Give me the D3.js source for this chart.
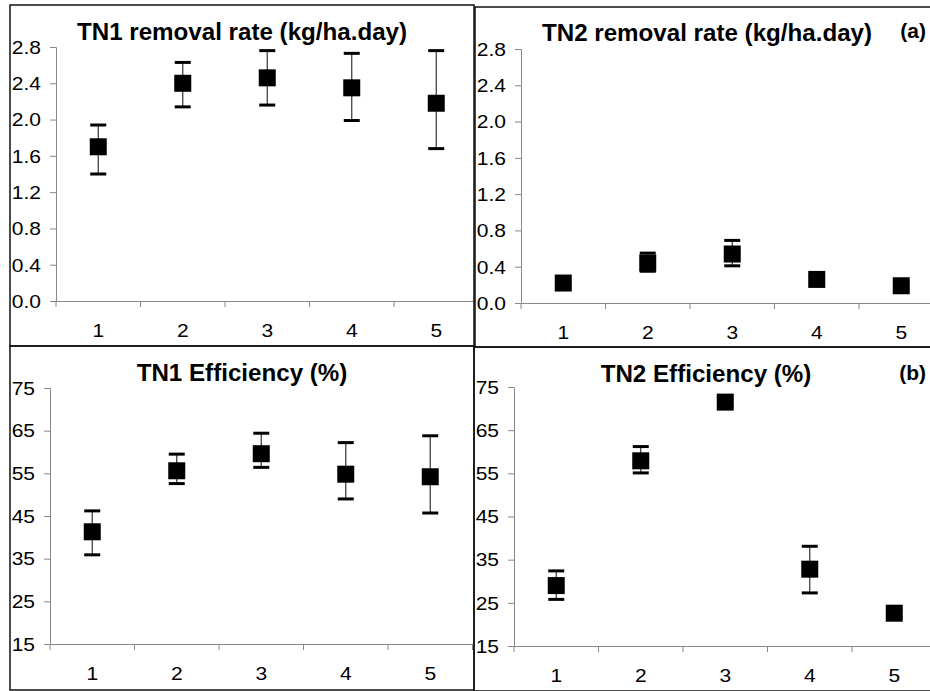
<!DOCTYPE html>
<html>
<head>
<meta charset="utf-8">
<script src="https://cdn.jsdelivr.net/npm/d3@7"></script>
<style>
  body { margin: 0; background: #fff; }
  svg { display: block; font-family: "Liberation Sans", Arial, sans-serif; }
</style>
</head>
<body>
<script>
// categories on the x axis
var categories = [1, 2, 3, 4, 5];

// TN1 removal rate (kg/ha.day): mean, upper and lower error bar ends
var tn1RateMean = [1.70, 2.40, 2.46, 2.35, 2.18];
var tn1RateHigh = [1.94, 2.63, 2.76, 2.73, 2.76];
var tn1RateLow  = [1.40, 2.14, 2.16, 1.99, 1.68];

// TN2 removal rate (kg/ha.day)
var tn2RateMean = [0.22, 0.44, 0.54, 0.26, 0.19];
var tn2RateHigh = [0.24, 0.55, 0.69, 0.30, 0.21];
var tn2RateLow  = [0.20, 0.35, 0.41, 0.22, 0.17];

// TN1 efficiency (%)
var tn1EffMean = [41.3, 55.6, 59.6, 54.8, 54.2];
var tn1EffHigh = [46.2, 59.5, 64.4, 62.2, 63.8];
var tn1EffLow  = [35.9, 52.6, 56.4, 49.0, 45.7];

// TN2 efficiency (%)
var tn2EffMean = [29.0, 57.9, 71.5, 32.8, 22.6];
var tn2EffHigh = [32.4, 61.2, 72.5, 38.1, 23.5];
var tn2EffLow  = [25.8, 55.1, 70.5, 27.3, 21.7];

// tick labels
var rateTicks = [0.0, 0.4, 0.8, 1.2, 1.6, 2.0, 2.4, 2.8];
var effTicks = [15, 25, 35, 45, 55, 65, 75];

// text in the original is a little wider than Arial
var SX = 1.2;
var bandW = 84.5;

var svg = d3.select('body').append('svg')
    .attr('width', 930)
    .attr('height', 691);

svg.append('rect').attr('width', 930).attr('height', 691).attr('fill', '#fff');

var panels = [
  {id: 'tl', title: 'TN1 removal rate (kg/ha.day)', mean: tn1RateMean, hi: tn1RateHigh, lo: tn1RateLow,
   ticks: rateTicks, fmt: d3.format('.1f'), box: [10, 5, 464, 341], left: 56, top: 47, bottom: 301,
   titleX: 242, titleY: 40},
  {id: 'tr', title: 'TN2 removal rate (kg/ha.day)', mean: tn2RateMean, hi: tn2RateHigh, lo: tn2RateLow,
   ticks: rateTicks, fmt: d3.format('.1f'), box: [475, 7, 470, 340], left: 521, top: 49, bottom: 303,
   titleX: 707, titleY: 41, tag: '(a)', tagY: 38},
  {id: 'bl', title: 'TN1 Efficiency (%)', mean: tn1EffMean, hi: tn1EffHigh, lo: tn1EffLow,
   ticks: effTicks, fmt: d3.format('d'), box: [10, 346, 464, 344], left: 50, top: 388, bottom: 644,
   titleX: 242, titleY: 381},
  {id: 'br', title: 'TN2 Efficiency (%)', mean: tn2EffMean, hi: tn2EffHigh, lo: tn2EffLow,
   ticks: effTicks, fmt: d3.format('d'), box: [474, 347, 470, 344], left: 514, top: 387, bottom: 646,
   titleX: 706, titleY: 382, tag: '(b)', tagY: 380}
];

panels.forEach(function(p) {
  var b = p.box;

  svg.append('clipPath').attr('id', 'clip-' + p.id)
    .append('rect').attr('x', b[0]).attr('y', b[1]).attr('width', b[2]).attr('height', b[3]);

  var g = svg.append('g').attr('clip-path', 'url(#clip-' + p.id + ')');

  //scales
  var x = d3.scaleBand().domain(categories).range([p.left, p.left + bandW * categories.length]).padding(0);
  var y = d3.scaleLinear().domain([p.ticks[0], p.ticks[p.ticks.length - 1]]).range([p.bottom, p.top]);

  //y axis
  var yAxis = g.append('g')
    .attr('transform', 'translate(' + p.left + ',0)')
    .call(d3.axisLeft(y).tickValues(p.ticks).tickFormat(p.fmt).tickSize(6));
  yAxis.select('.domain').attr('stroke', '#888');
  yAxis.selectAll('.tick line').attr('stroke', '#888');
  yAxis.selectAll('.tick text')
    .attr('x', null).attr('dy', '0.36em')
    .attr('transform', 'translate(-15,0) scale(' + SX + ',1)')
    .attr('text-anchor', 'end')
    .attr('font-size', 17.5).attr('font-family', null).attr('fill', '#000');

  //x axis: labels centred, ticks between categories
  var xAxis = g.append('g')
    .attr('transform', 'translate(0,' + p.bottom + ')')
    .call(d3.axisBottom(x).tickSize(0).tickPadding(0).tickSizeOuter(0));
  xAxis.select('.domain').attr('stroke', '#888');
  xAxis.selectAll('.tick text')
    .attr('y', null).attr('dy', null)
    .attr('transform', 'translate(0,36) scale(' + SX + ',1)')
    .attr('font-size', 17.5).attr('font-family', null).attr('fill', '#000');
  xAxis.selectAll('.between')
    .data(categories.concat(['end']))
    .enter().append('line')
    .attr('class', 'between')
    .attr('x1', function(d) { return d === 'end' ? x.range()[1] : x(d); })
    .attr('x2', function(d) { return d === 'end' ? x.range()[1] : x(d); })
    .attr('y1', 0).attr('y2', 6)
    .attr('stroke', '#888');

  //error bars
  var data = categories.map(function(c, i) {
    return {c: c, m: p.mean[i], hi: p.hi[i], lo: p.lo[i]};
  });
  var cx = function(d) { return x(d.c) + x.bandwidth() / 2; };

  g.selectAll('.whisker').data(data).enter().append('line')
    .attr('x1', cx).attr('x2', cx)
    .attr('y1', function(d) { return y(d.hi); })
    .attr('y2', function(d) { return y(d.lo); })
    .attr('stroke', '#333').attr('stroke-width', 1.2);

  ['hi', 'lo'].forEach(function(k) {
    g.selectAll('.cap-' + k).data(data).enter().append('line')
      .attr('x1', function(d) { return cx(d) - 8; })
      .attr('x2', function(d) { return cx(d) + 8; })
      .attr('y1', function(d) { return y(d[k]); })
      .attr('y2', function(d) { return y(d[k]); })
      .attr('stroke', '#000').attr('stroke-width', 3);
  });

  //square markers
  g.selectAll('.marker').data(data).enter().append('rect')
    .attr('x', function(d) { return cx(d) - 8.5; })
    .attr('y', function(d) { return y(d.m) - 8.5; })
    .attr('width', 17).attr('height', 17)
    .attr('fill', '#000');

  //title
  g.append('text')
    .attr('transform', 'translate(' + p.titleX + ',' + p.titleY + ') scale(1.05,1)')
    .attr('text-anchor', 'middle')
    .attr('font-size', 23).attr('font-weight', 'bold')
    .text(p.title);

  if (p.tag) {
    g.append('text')
      .attr('transform', 'translate(926,' + p.tagY + ') scale(1.05,1)')
      .attr('text-anchor', 'end')
      .attr('font-size', 20).attr('font-weight', 'bold')
      .text(p.tag);
  }

  //panel border
  svg.append('rect')
    .attr('x', b[0]).attr('y', b[1]).attr('width', b[2]).attr('height', b[3])
    .attr('fill', 'none').attr('stroke', '#111').attr('stroke-width', 1.5);
});
</script>
</body>
</html>
